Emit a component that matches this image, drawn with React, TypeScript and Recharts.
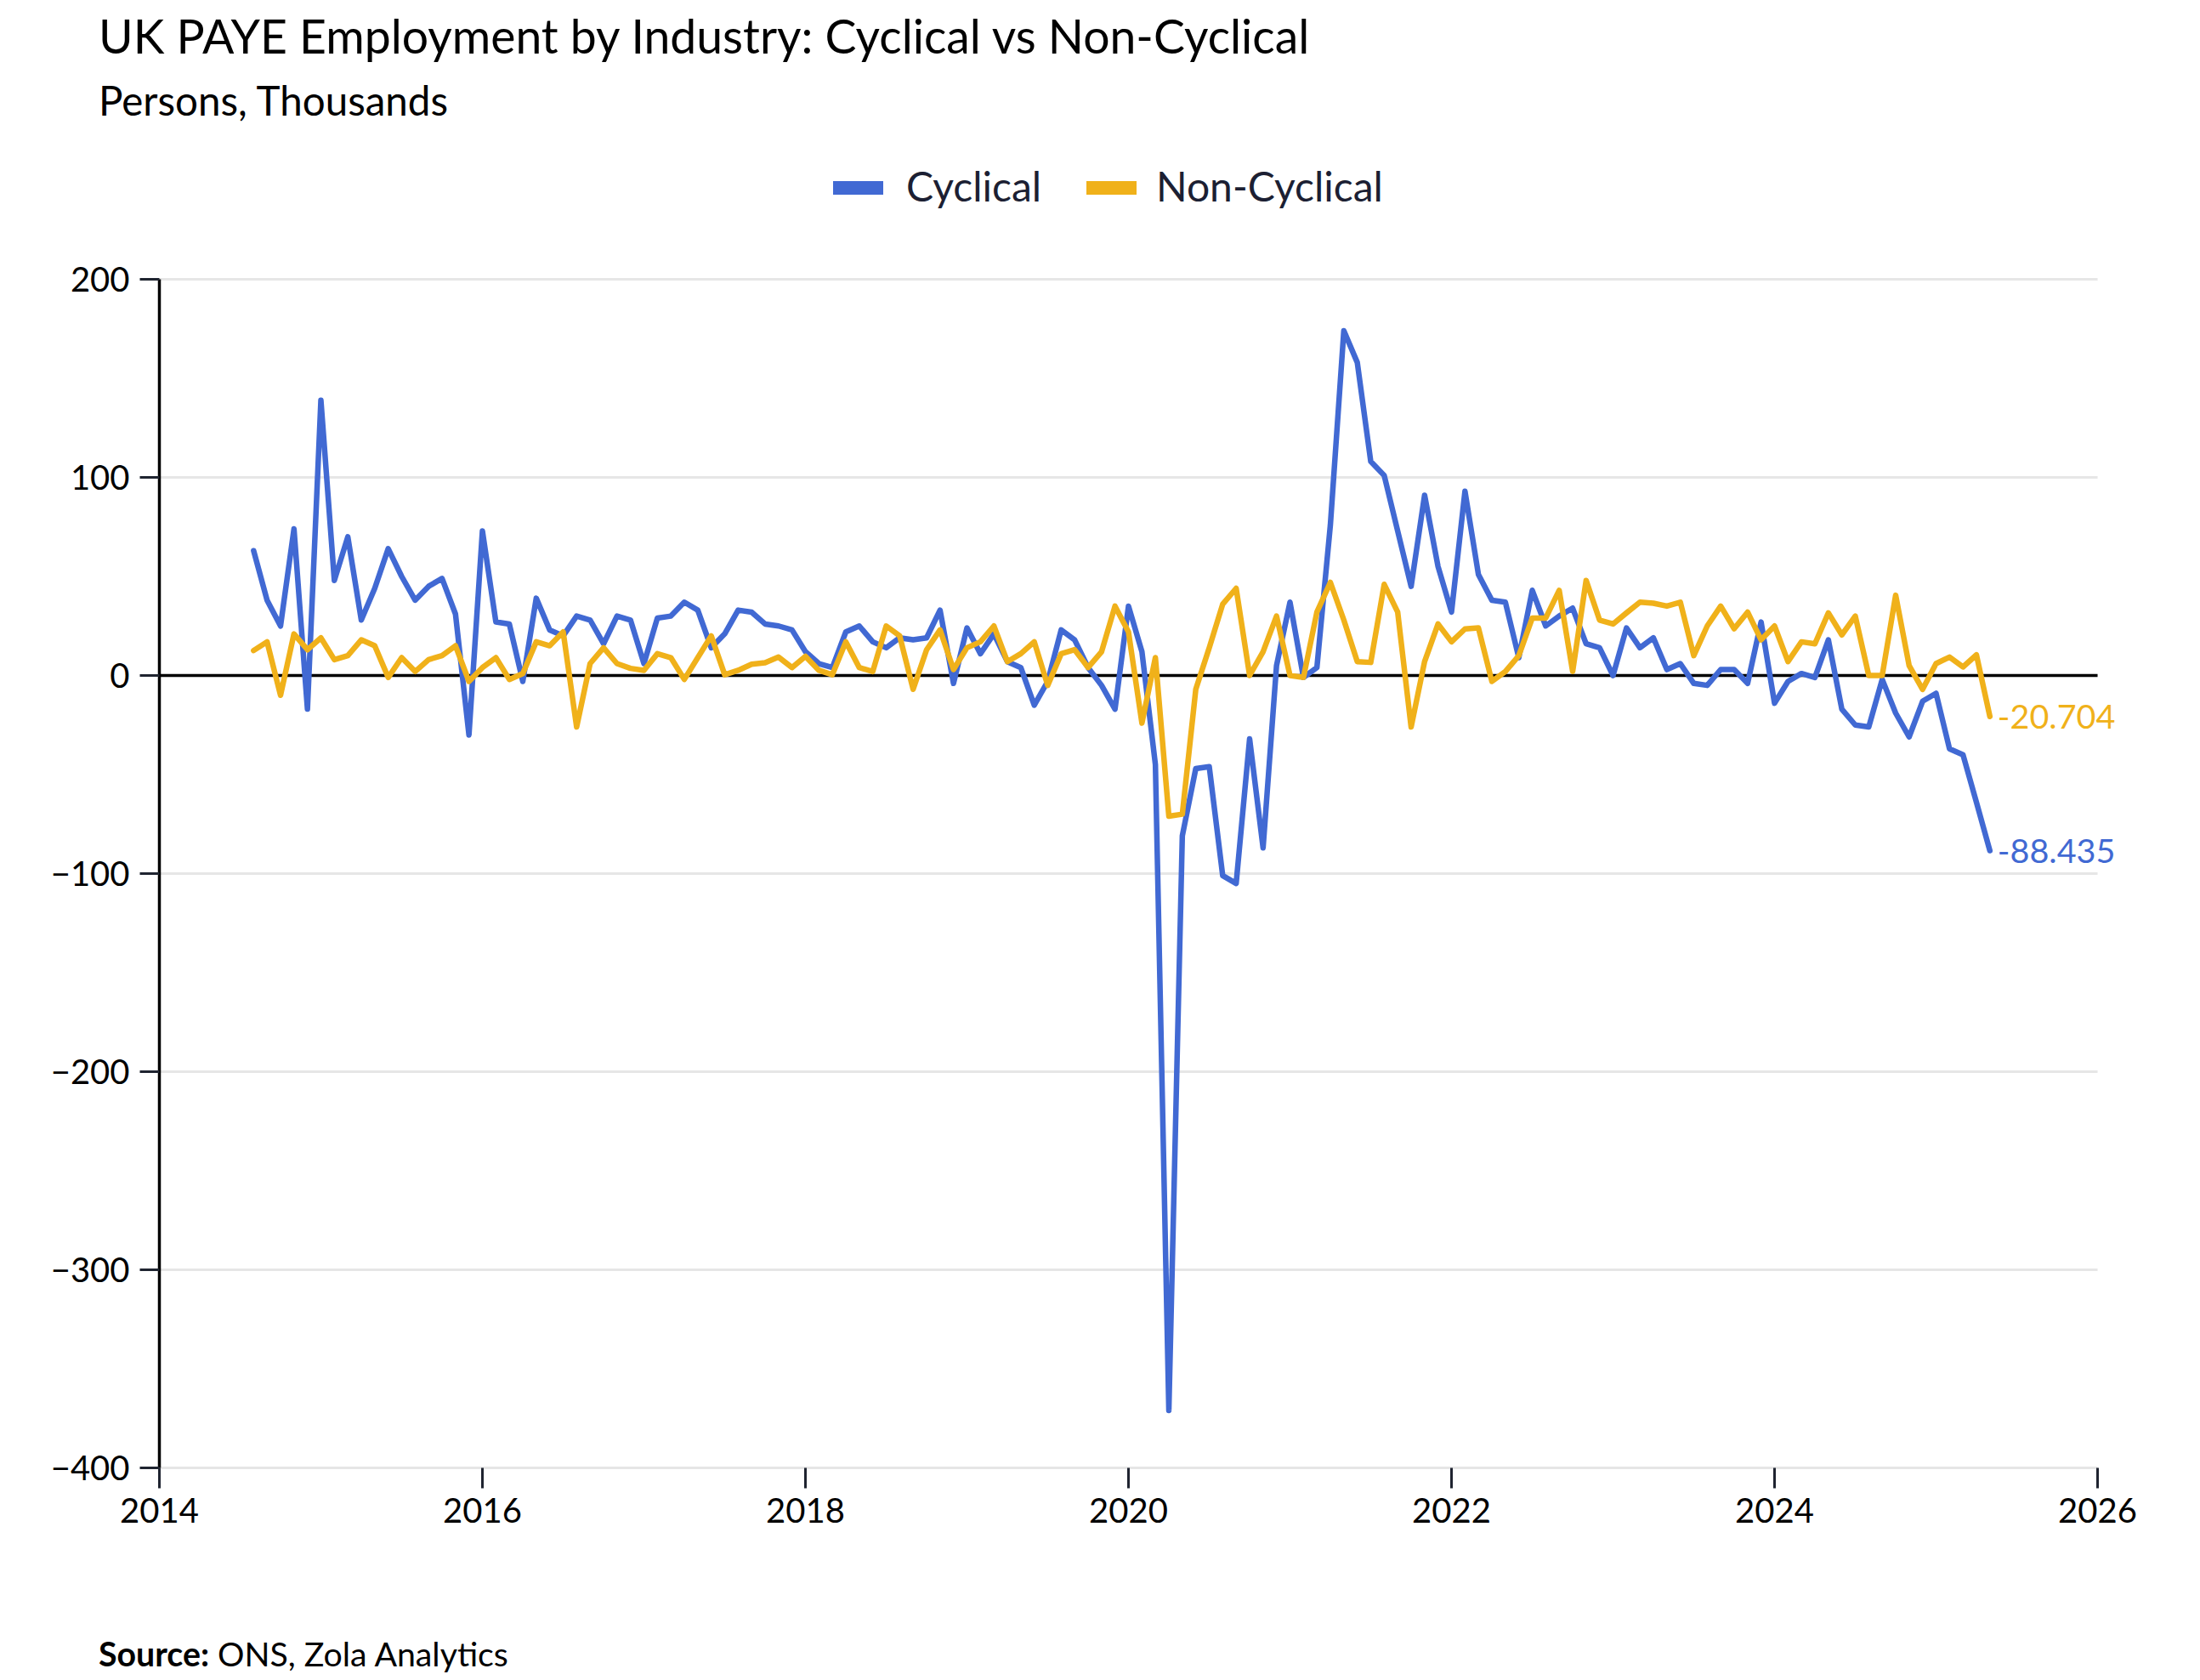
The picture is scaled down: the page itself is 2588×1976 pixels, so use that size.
import { LineChart, Line, XAxis, YAxis, CartesianGrid, ReferenceLine } from "recharts";

// Monthly change, thousands of persons, Aug 2014 .. May 2025
const FIRST_YEAR = 2014;
const FIRST_MONTH = 8;

const cyclical = [
  63, 38, 25, 74, -17,
  139, 48, 70, 28, 44, 64, 50, 38, 45, 49, 31, -30,
  73, 27, 26, -3, 39, 23, 20, 30, 28, 16, 30, 28,
  6, 29, 30, 37, 33, 14, 21, 33, 32, 26, 25, 23,
  12, 6, 4, 22, 25, 17, 14, 19, 18, 19, 33, -4,
  24, 11, 21, 7, 4, -15, -3, 23, 18, 4, -5, -17,
  35, 12, -45, -371, -81, -47, -46, -101, -105, -32, -87, 5,
  37, -1, 4, 76, 174, 158, 108, 101, 73, 45, 91, 55,
  32, 93, 51, 38, 37, 9, 43, 25, 30, 34, 16, 14,
  0, 24, 14, 19, 3, 6, -4, -5, 3, 3, -4, 27,
  -14, -3, 1, -1, 18, -17, -25, -26, -2, -19, -31, -13,
  -9, -37, -40, -64, -88.435,
];

const nonCyclical = [
  12.6, 17, -10, 21, 13,
  19, 8, 10, 18, 15, -1, 9, 2, 8, 10, 15, -3,
  4, 9, -2, 1, 17, 15, 22, -26, 6, 14, 6, 3.6,
  2.6, 11, 9, -2, 9, 20, 0.4, 2.6, 5.7, 6.4, 9.3, 4,
  9.7, 2.6, 0.4, 17, 4, 2, 25, 20, -7, 13, 23, 3,
  14, 17, 25, 7, 11, 17, -5, 11, 13, 4, 12, 35,
  22, -24, 9, -71, -70, -7, 14, 36, 44, 0, 12, 30,
  0, -1, 32, 47, 28, 7, 6.6, 46, 32, -26, 7, 26,
  17, 23.5, 24, -3, 2, 10, 29, 29, 43, 2, 48, 28,
  26, 31.6, 37, 36.5, 35, 37, 10, 25, 35, 23.6, 32, 18,
  25, 7, 17, 16, 31.6, 20.5, 30, 0, 0, 40.5, 5, -7,
  6, 9.3, 4.3, 10.4, -20.704,
];

const xTicks = [2014, 2016, 2018, 2020, 2022, 2024, 2026];
const yTicks = [-400, -300, -200, -100, 0, 100, 200];

const BLUE = "#4169d3";
const YELLOW = "#f0b11a";
const FONT = "Lato, 'Noto Sans', sans-serif";

const data = cyclical.map((c, i) => ({
  t: FIRST_YEAR + (FIRST_MONTH - 1 + i) / 12,
  cyclical: c,
  nonCyclical: nonCyclical[i],
}));

const endLabel = (color: string) => (props: any) => {
  const { x, y, index, value } = props;
  if (index !== data.length - 1) return <g />;
  return (
    <text x={x + 9} y={y} dy="0.36em" fill={color} fontSize={39.5} fontFamily={FONT}>
      {String(value)}
    </text>
  );
};

const minus = (v: number) => (v < 0 ? `\u2212${Math.abs(v)}` : `${v}`);

export default function App() {
  return (
    <div
      style={{
        position: "absolute",
        left: 0,
        top: 0,
        width: 2588,
        height: 1976,
        background: "#fff",
        fontFamily: FONT,
      }}
    >
      <div style={{ position: "absolute", left: 116, top: 14, fontSize: 55.3, lineHeight: 1, color: "#000" }}>
        UK PAYE Employment by Industry: Cyclical vs Non-Cyclical
      </div>
      <div style={{ position: "absolute", left: 116, top: 94, fontSize: 47.5, lineHeight: 1, color: "#000" }}>
        Persons, Thousands
      </div>

      {/* legend */}
      <div style={{ position: "absolute", left: 980, top: 213, width: 59, height: 16, background: BLUE }} />
      <div style={{ position: "absolute", left: 1066, top: 195, fontSize: 48, lineHeight: 1, color: "#1c1f33" }}>
        Cyclical
      </div>
      <div style={{ position: "absolute", left: 1278, top: 213, width: 59, height: 16, background: YELLOW }} />
      <div style={{ position: "absolute", left: 1360, top: 195, fontSize: 48, lineHeight: 1, color: "#1c1f33" }}>
        Non-Cyclical
      </div>

      <div style={{ position: "absolute", left: 0, top: 0 }}>
        <LineChart
          width={2588}
          height={1976}
          data={data}
          margin={{ top: 328.5, right: 120.5, bottom: 0, left: 27.5 }}
        >
          <CartesianGrid vertical={false} stroke="#e6e6e6" strokeWidth={3} />
          <XAxis
            type="number"
            dataKey="t"
            domain={[2014, 2026]}
            ticks={xTicks}
            height={249.5}
            axisLine={false}
            tickLine={{ stroke: "#1f2430", strokeWidth: 3 }}
            tickSize={24}
            tickMargin={12}
            tick={{ fill: "#000", fontSize: 40, fontFamily: FONT }}
          />
          <YAxis
            type="number"
            domain={[-400, 200]}
            ticks={yTicks}
            width={160}
            axisLine={{ stroke: "#000", strokeWidth: 3.5 }}
            tickLine={{ stroke: "#1f2430", strokeWidth: 3 }}
            tickSize={23}
            tickMargin={12}
            tickFormatter={minus}
            tick={{ fill: "#000", fontSize: 40, fontFamily: FONT }}
          />
          <ReferenceLine y={0} stroke="#000" strokeWidth={3.5} />
          <Line
            type="linear"
            dataKey="cyclical"
            stroke={BLUE}
            strokeWidth={6.5}
            strokeLinejoin="round"
            strokeLinecap="round"
            dot={false}
            isAnimationActive={false}
            label={endLabel(BLUE)}
          />
          <Line
            type="linear"
            dataKey="nonCyclical"
            stroke={YELLOW}
            strokeWidth={6.5}
            strokeLinejoin="round"
            strokeLinecap="round"
            dot={false}
            isAnimationActive={false}
            label={endLabel(YELLOW)}
          />
        </LineChart>
      </div>

      <div style={{ position: "absolute", left: 116, top: 1925, fontSize: 39.3, lineHeight: 1, color: "#000" }}>
        <span style={{ fontWeight: 700 }}>Source:</span> ONS, Zola Analytics
      </div>
    </div>
  );
}
